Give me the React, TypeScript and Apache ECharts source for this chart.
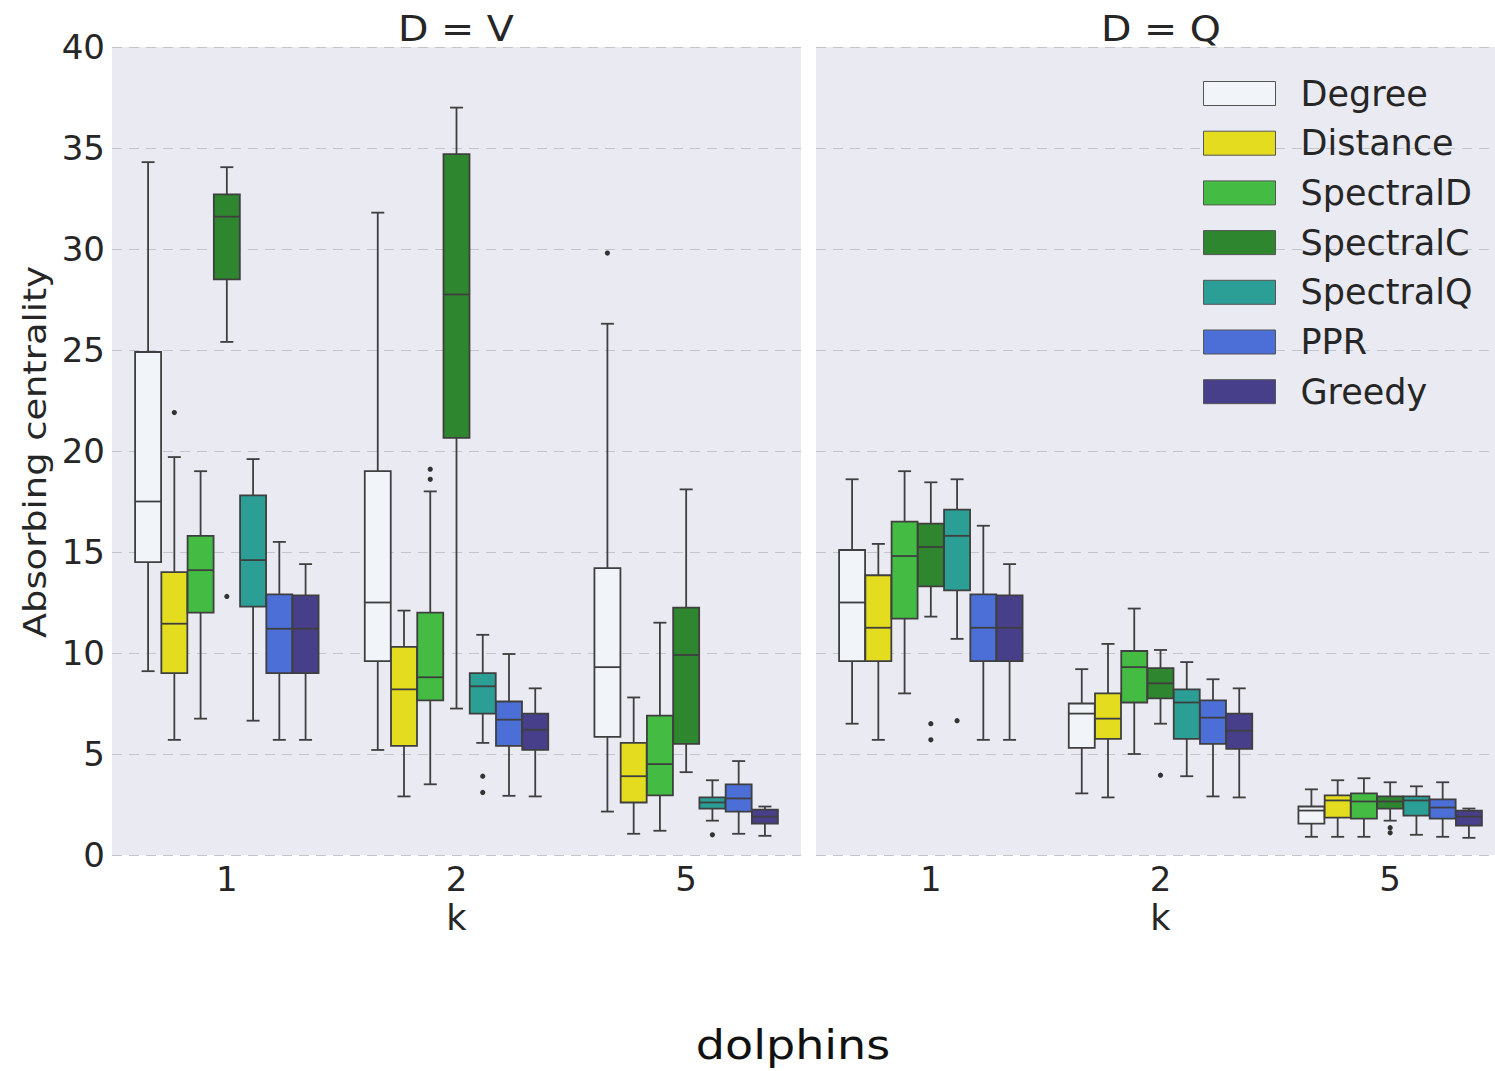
import React, { useEffect, useRef } from 'react';
import * as echarts from 'echarts';

const methods = ['Degree', 'Distance', 'SpectralD', 'SpectralC', 'SpectralQ', 'PPR', 'Greedy'];
const kCategories = ['1', '2', '5'];
const colors = ['#f1f5fa', '#e3dc1f', '#44bc44', '#2e862f', '#2b9e95', '#4b6fd6', '#483f8b'];

// [min, q1, median, q3, max] for k = 1, 2, 5 — panel D = V
const vDegree = [[9.1, 14.5, 17.5, 24.9, 34.3], [5.2, 9.6, 12.5, 19.0, 31.8], [2.15, 5.85, 9.3, 14.2, 26.3]];
const vDistance = [[5.7, 9.0, 11.45, 14.0, 19.7], [2.9, 5.4, 8.2, 10.3, 12.1], [1.05, 2.6, 3.9, 5.55, 7.8]];
const vSpectralD = [[6.75, 12.0, 14.1, 15.8, 19.0], [3.5, 7.65, 8.8, 12.0, 18.0], [1.2, 2.95, 4.5, 6.9, 11.5]];
const vSpectralC = [[25.4, 28.5, 31.6, 32.7, 34.05], [7.25, 20.65, 27.75, 34.7, 37.0], [4.1, 5.5, 9.9, 12.25, 18.1]];
const vSpectralQ = [[6.65, 12.3, 14.6, 17.8, 19.6], [5.55, 7.0, 8.35, 9.0, 10.9], [1.7, 2.3, 2.6, 2.85, 3.7]];
const vPPR = [[5.7, 9.0, 11.2, 12.9, 15.5], [2.93, 5.4, 6.7, 7.6, 9.95], [1.05, 2.15, 2.8, 3.5, 4.65]];
const vGreedy = [[5.7, 9.0, 11.2, 12.85, 14.4], [2.9, 5.2, 6.2, 7.0, 8.25], [0.95, 1.55, 1.9, 2.25, 2.4]];

// panel D = Q
const qDegree = [[6.5, 9.6, 12.5, 15.1, 18.6], [3.05, 5.3, 7.0, 7.5, 9.2], [0.9, 1.55, 2.2, 2.4, 3.25]];
const qDistance = [[5.7, 9.6, 11.25, 13.85, 15.4], [2.85, 5.75, 6.75, 8.0, 10.45], [0.9, 1.85, 2.7, 2.95, 3.7]];
const qSpectralD = [[8.0, 11.7, 14.8, 16.5, 19.0], [5.0, 7.55, 9.3, 10.1, 12.2], [0.9, 1.8, 2.65, 3.05, 3.8]];
const qSpectralC = [[11.8, 13.3, 15.25, 16.4, 18.45], [6.5, 7.75, 8.5, 9.25, 10.15], [1.7, 2.3, 2.65, 2.9, 3.6]];
const qSpectralQ = [[10.7, 13.1, 15.8, 17.1, 18.6], [3.9, 5.75, 7.55, 8.2, 9.55], [1.0, 1.95, 2.7, 2.9, 3.4]];
const qPPR = [[5.7, 9.6, 11.25, 12.9, 16.3], [2.9, 5.5, 6.8, 7.65, 8.7], [0.9, 1.8, 2.35, 2.75, 3.6]];
const qGreedy = [[5.7, 9.6, 11.25, 12.85, 14.4], [2.85, 5.25, 6.15, 7.0, 8.25], [0.85, 1.45, 1.9, 2.2, 2.3]];

// outliers: [k index, method index, value]
const vOutliers = [[0, 1, 21.9], [0, 3, 12.8], [1, 2, 19.1], [1, 2, 18.6], [1, 4, 3.9], [1, 4, 3.1], [2, 0, 29.8], [2, 4, 1.0]];
const qOutliers = [[0, 3, 6.5], [0, 3, 5.7], [0, 4, 6.65], [1, 3, 3.95], [2, 3, 1.1], [2, 3, 1.35]];

const vPanel = [vDegree, vDistance, vSpectralD, vSpectralC, vSpectralQ, vPPR, vGreedy];
const qPanel = [qDegree, qDistance, qSpectralD, qSpectralC, qSpectralQ, qPPR, qGreedy];

const FONT = 'DejaVu Sans';
const TEXT = '#262626';
const EDGE = '#3f3f3f';
const N = methods.length;

function boxRenderer(j: number) {
  return (params: any, api: any) => {
    const cat = api.value(0);
    const band = api.size([1, 0])[0];
    const slot = (band * 0.8) / N;
    const cx = api.coord([cat, 0])[0] + (j - (N - 1) / 2) * slot;
    const w = slot * 0.99;
    const yMin = api.coord([cat, api.value(1)])[1];
    const yQ1 = api.coord([cat, api.value(2)])[1];
    const yMed = api.coord([cat, api.value(3)])[1];
    const yQ3 = api.coord([cat, api.value(4)])[1];
    const yMax = api.coord([cat, api.value(5)])[1];
    const ls = { stroke: EDGE, lineWidth: 1.8 };
    return {
      type: 'group',
      children: [
        { type: 'line', shape: { x1: cx, y1: yMax, x2: cx, y2: yQ3 }, style: ls },
        { type: 'line', shape: { x1: cx, y1: yQ1, x2: cx, y2: yMin }, style: ls },
        { type: 'line', shape: { x1: cx - w / 4, y1: yMax, x2: cx + w / 4, y2: yMax }, style: ls },
        { type: 'line', shape: { x1: cx - w / 4, y1: yMin, x2: cx + w / 4, y2: yMin }, style: ls },
        {
          type: 'rect',
          shape: { x: cx - w / 2, y: yQ3, width: w, height: yQ1 - yQ3 },
          style: { fill: colors[j], stroke: EDGE, lineWidth: 1.8 },
        },
        { type: 'line', shape: { x1: cx - w / 2, y1: yMed, x2: cx + w / 2, y2: yMed }, style: ls },
      ],
    };
  };
}

function outlierRenderer(params: any, api: any) {
  const cat = api.value(0);
  const j = api.value(1);
  const band = api.size([1, 0])[0];
  const slot = (band * 0.8) / N;
  const p = api.coord([cat, api.value(2)]);
  return {
    type: 'circle',
    shape: { cx: p[0] + (j - (N - 1) / 2) * slot, cy: p[1], r: 2.6 },
    style: { fill: '#333' },
  };
}

function panelSeries(panel: number[][][], outliers: number[][], gi: number) {
  const s: any[] = panel.map((rows, j) => ({
    type: 'custom',
    name: methods[j],
    xAxisIndex: gi,
    yAxisIndex: gi,
    itemStyle: { color: colors[j] },
    encode: { x: 0, y: [1, 2, 3, 4, 5] },
    data: rows.map((r, c) => [c, ...r]),
    renderItem: boxRenderer(j),
    z: 3,
  }));
  s.push({
    type: 'custom',
    name: 'outliers' + gi,
    xAxisIndex: gi,
    yAxisIndex: gi,
    encode: { x: 0, y: 2 },
    data: outliers,
    renderItem: outlierRenderer,
    z: 4,
  });
  return s;
}

export default function App() {
  const ref = useRef<HTMLDivElement>(null);
  useEffect(() => {
    const chart = echarts.init(ref.current!, null, { renderer: 'svg' });
    const xAxisBase = {
      type: 'category',
      data: kCategories,
      axisLine: { show: false },
      axisTick: { show: false },
      axisLabel: { fontSize: 34, color: TEXT, fontFamily: FONT, margin: 7 },
      name: 'k',
      nameLocation: 'middle',
      nameGap: 40,
      nameTextStyle: { fontSize: 35, color: TEXT, fontFamily: FONT },
      splitLine: { show: false },
    };
    const yAxisBase = {
      type: 'value',
      min: 0,
      max: 40,
      interval: 5,
      axisLine: { show: false },
      axisTick: { show: false },
      splitLine: { show: true, lineStyle: { color: '#c4c4cc', type: [10, 7], width: 1.2 } },
    };
    const option: any = {
      animation: false,
      backgroundColor: '#ffffff',
      grid: [
        { left: 112, top: 47, width: 689, height: 808, show: true, backgroundColor: '#eaeaf2', borderWidth: 0 },
        { left: 816, top: 47, width: 689, height: 808, show: true, backgroundColor: '#eaeaf2', borderWidth: 0 },
      ],
      xAxis: [
        { ...xAxisBase, gridIndex: 0 },
        { ...xAxisBase, gridIndex: 1 },
      ],
      yAxis: [
        { ...yAxisBase, gridIndex: 0, axisLabel: { fontSize: 34, color: TEXT, fontFamily: FONT, margin: 7 } },
        { ...yAxisBase, gridIndex: 1, axisLabel: { show: false } },
      ],
      legend: {
        data: methods,
        orient: 'vertical',
        left: 1203,
        top: 76,
        padding: 0,
        itemWidth: 72,
        itemHeight: 24,
        itemGap: 14.7,
        icon: 'rect',
        itemStyle: { borderColor: '#555', borderWidth: 1 },
        textStyle: { fontSize: 35, lineHeight: 30, color: TEXT, fontFamily: FONT, padding: [0, 0, 0, 20] },
      },
      graphic: [
        { type: 'text', x: 456, y: 29, scaleX: 1.1, style: { text: 'D = V', font: `36px "${FONT}"`, fill: TEXT, textAlign: 'center', textVerticalAlign: 'middle' } },
        { type: 'text', x: 1161, y: 29, scaleX: 1.1, style: { text: 'D = Q', font: `36px "${FONT}"`, fill: TEXT, textAlign: 'center', textVerticalAlign: 'middle' } },
        { type: 'text', x: 793, y: 1045, scaleX: 1.15, style: { text: 'dolphins', font: `40px "${FONT}"`, fill: '#111', textAlign: 'center', textVerticalAlign: 'middle' } },
        { type: 'text', x: 35, y: 452, rotation: Math.PI / 2, scaleX: 1.15, style: { text: 'Absorbing centrality', font: `32px "${FONT}"`, fill: TEXT, textAlign: 'center', textVerticalAlign: 'middle' } },
      ],
      series: [...panelSeries(vPanel, vOutliers, 0), ...panelSeries(qPanel, qOutliers, 1)],
    };
    chart.setOption(option);
    return () => chart.dispose();
  }, []);
  return (
    <div style={{ position: 'fixed', left: 0, top: 0, width: 1495, height: 1071, overflow: 'hidden', background: '#fff' }}>
      <div ref={ref} style={{ width: 1510, height: 1071 }} />
    </div>
  );
}
